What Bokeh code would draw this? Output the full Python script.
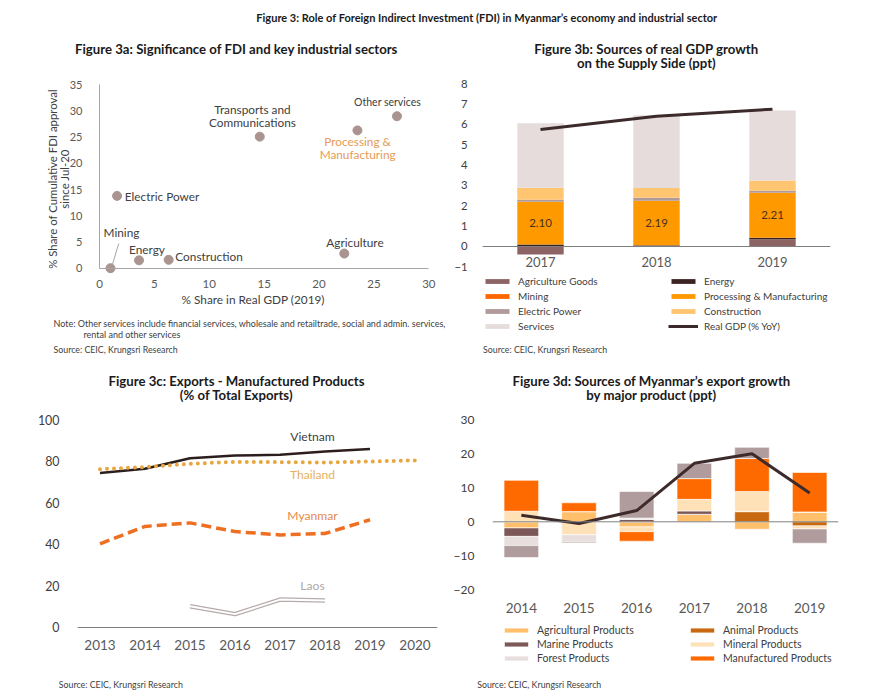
import numpy as np
from bokeh.plotting import figure
from bokeh.models import Label, Legend, LegendItem, Span, FactorRange, FixedTicker, Range1d
from bokeh.layouts import column, row
from bokeh.embed import file_html
from bokeh.resources import INLINE

FONT = "Lato"
TXT = "#404040"
TICK = "#595959"
DARK = "#1a1a1a"

# ---------------- Data ----------------
# Figure 3a
sectors = ["Mining", "Energy", "Construction", "Electric Power",
           "Transports and Communications", "Processing & Manufacturing",
           "Other services", "Agriculture"]
gdp_share = [1.0, 3.6, 6.3, 1.6, 14.6, 23.5, 27.1, 22.3]
fdi_share = [0.0, 1.5, 1.6, 13.8, 25.1, 26.3, 29.0, 2.8]
a_xticks = [0, 5, 10, 15, 20, 25, 30]
a_yticks = [0, 5, 10, 15, 20, 25, 30, 35]

# Figure 3b
years_b = ["2017", "2018", "2019"]
b_names = ["Agriculture Goods", "Energy", "Mining", "Processing & Manufacturing",
           "Electric Power", "Construction", "Services"]
b_agri = [-0.40, 0.03, 0.36]
b_energy = [0.10, 0.03, 0.07]
b_mining = [0.00, 0.00, 0.00]
b_proc = [2.10, 2.19, 2.21]
b_elec = [0.10, 0.15, 0.10]
b_constr = [0.59, 0.48, 0.50]
b_serv = [3.17, 3.57, 3.45]
b_gdp = [5.75, 6.40, 6.75]
b_yticks = [-1, 0, 1, 2, 3, 4, 5, 6, 7, 8]

# Figure 3c
years_c = ["2013", "2014", "2015", "2016", "2017", "2018", "2019", "2020"]
vietnam_years = ["2013", "2014", "2015", "2016", "2017", "2018", "2019"]
vietnam = [74.4, 76.4, 81.5, 82.8, 83.1, 84.7, 85.9]
thailand_years = ["2013", "2014", "2015", "2016", "2017", "2018", "2019", "2020"]
thailand = [76.2, 77.2, 78.8, 79.7, 79.6, 79.4, 79.9, 80.4]
myanmar_years = ["2013", "2014", "2015", "2016", "2017", "2018", "2019"]
myanmar = [40.2, 48.6, 50.3, 46.1, 44.5, 45.2, 51.8]
laos_years = ["2015", "2016", "2017", "2018"]
laos = [10.1, 6.3, 13.3, 12.9]
c_yticks = [0, 20, 40, 60, 80, 100]

# Figure 3d
years_d = ["2014", "2015", "2016", "2017", "2018", "2019"]
d_names = ["Agricultural Products", "Animal Products", "Marine Products",
           "Mineral Products", "Forest Products", "Manufactured Products", "Other Products"]
d_agri = [-1.8, 3.0, -1.5, 2.2, -2.2, 2.9]
d_animal = [0.0, 0.0, 0.0, 0.0, 3.0, -1.2]
d_marine = [-2.5, 0.0, 0.7, 1.0, 0.0, 0.0]
d_mineral = [3.1, -3.8, -1.4, 3.4, 5.9, -0.9]
d_forest = [-2.7, -2.1, 0.4, 0.0, 0.0, 0.0]
d_manuf = [9.1, 2.6, -2.8, 6.1, 9.7, 11.6]
d_other = [-3.5, -0.3, 7.8, 4.5, 3.3, -4.2]
d_total = [1.9, -0.5, 3.3, 17.2, 20.0, 8.5]
d_yticks = [-20, -10, 0, 10, 20, 30]


# ---------------- Helpers ----------------
def stack(series):
    n = len(series[0])
    pos = np.zeros(n)
    neg = np.zeros(n)
    out = []
    for v in series:
        v = np.asarray(v, float)
        bottom = np.where(v >= 0, pos, neg)
        top = bottom + v
        pos = np.where(v >= 0, top, pos)
        neg = np.where(v < 0, top, neg)
        out.append((bottom, top))
    return out


def span_range(v0, v1, frac0, frac1):
    """Range whose values v0/v1 fall at fractions frac0/frac1 of the frame."""
    k = (v1 - v0) / (frac1 - frac0)
    start = v0 - frac0 * k
    return Range1d(start, start + k)


def make_fig(w, h, xr, yr, bl=0, br=0, bt=0, bb=0):
    p = figure(width=w, height=h, x_range=xr, y_range=yr, output_backend="svg",
               toolbar_location=None, min_border_left=bl, min_border_right=br,
               min_border_top=bt, min_border_bottom=bb)
    p.outline_line_color = None
    p.xgrid.visible = False
    p.ygrid.visible = False
    p.background_fill_color = "white"
    p.border_fill_color = "white"
    for ax in (p.xaxis, p.yaxis):
        ax.major_tick_line_color = None
        ax.minor_tick_line_color = None
        ax.major_label_text_font = FONT
        ax.major_label_text_color = TICK
    return p


def txt(p, text, sx, sy, size, color=TXT, bold=False, align="left", angle=0.0):
    p.add_layout(Label(x=sx, y=sy, x_units="screen", y_units="screen", text=text,
                       text_font=FONT, text_font_size=f"{size}px", text_color=color,
                       text_font_style="bold" if bold else "normal",
                       text_align=align, text_baseline="middle", angle=angle))


def legend(p, items, x, y, size, spacing, standoff=6):
    lg = Legend(items=items, location=(x, y), orientation="vertical",
                glyph_width=30, glyph_height=6, label_height=12, label_standoff=standoff,
                spacing=spacing, padding=0, margin=0, border_line_color=None,
                background_fill_alpha=0, label_text_font=FONT,
                label_text_font_size=f"{size}px", label_text_color=TXT)
    p.add_layout(lg)


W_L, W_R = 450, 419
H_HEAD, H_ROW1, H_ROW2, H_FOOT = 33, 327, 316, 19
SUB = 13.2      # sub-figure title size
NOTE = 8.8      # notes / sources

# ---------------- Header ----------------
header = figure(width=W_L + W_R, height=H_HEAD, x_range=(0, 1), y_range=(0, 1),
                output_backend="svg", toolbar_location=None, x_axis_type=None,
                y_axis_type=None, min_border=0)
header.outline_line_color = None
header.xgrid.visible = False
header.ygrid.visible = False
txt(header, "Figure 3: Role of Foreign Indirect Investment (FDI) in Myanmar\u2019s economy and industrial sector",
    486.5, 16.3, 11, color=DARK, bold=True, align="center")

# ---------------- Figure 3a ----------------
p1 = make_fig(W_L, H_ROW1,
              span_range(0, 30, 99 / W_L, 428.3 / W_L),
              span_range(0, 35, 92.3 / H_ROW1, 275.7 / H_ROW1))
p1.xaxis.ticker = FixedTicker(ticks=a_xticks)
p1.yaxis.ticker = FixedTicker(ticks=a_yticks)
p1.xaxis.fixed_location = 0
p1.yaxis.fixed_location = 0
p1.xaxis.bounds = (0, 30)
p1.yaxis.bounds = (0, 35)
p1.xaxis.axis_line_color = "#A6A6A6"
p1.yaxis.axis_line_color = "#A6A6A6"
p1.xaxis.major_label_text_font_size = "11.5px"
p1.yaxis.major_label_text_font_size = "11px"
p1.xaxis.major_label_standoff = 6
p1.yaxis.major_label_standoff = 11

mi = sectors.index("Mining")
p1.segment(x0=[gdp_share[mi] + 0.15], y0=[fdi_share[mi] + 0.5],
           x1=[gdp_share[mi] + 0.75], y1=[fdi_share[mi] + 4.7],
           line_color="#A6A6A6", line_width=1)
p1.scatter(gdp_share, fdi_share, size=9, color="#A99490")

label_style = {
    "Mining": [("Mining", 11, 35.3, "center")],
    "Energy": [("Energy", 8, 11, "center")],
    "Construction": [("Construction", 6.7, 2.9, "left")],
    "Electric Power": [("Electric Power", 7.7, -0.5, "left")],
    "Transports and Communications": [("Transports and", -7.3, 27.1, "center"),
                                      ("Communications", -7.3, 14.4, "center")],
    "Processing & Manufacturing": [("Processing &", 0.2, -11.3, "center"),
                                   ("Manufacturing", 0.2, -24.3, "center")],
    "Other services": [("Other services", -9.4, 14.5, "center")],
    "Agriculture": [("Agriculture", 10.7, 11.3, "center")],
}
for name, gx, fy in zip(sectors, gdp_share, fdi_share):
    col = "#E39B55" if name.startswith("Processing") else TXT
    size = "10.5px" if name == "Other services" else "11.8px"
    for t, dx, dy, al in label_style[name]:
        p1.add_layout(Label(x=gx, y=fy, x_offset=dx, y_offset=dy, text=t, text_font=FONT,
                            text_font_size=size, text_color=col, text_align=al,
                            text_baseline="middle"))

txt(p1, "Figure 3a: Significance of FDI and key industrial sectors", 236, 312, SUB,
    color=DARK, bold=True, align="center")
txt(p1, "% Share in Real GDP (2019)", 252.7, 60.7, 11.8, align="center")
txt(p1, "% Share of Cumulative FDI approval", 51.7, 181.5, 11.4, align="center", angle=np.pi / 2)
txt(p1, "since Jul-20", 63.6, 181.5, 11.4, align="center", angle=np.pi / 2)
txt(p1, "Note: Other services include financial services, wholesale and retailtrade, social and admin. services,",
    53, 37, 9)
txt(p1, "rental and other services", 83, 26, 9)
txt(p1, "Source: CEIC, Krungsri Research", 53, 11, NOTE)

# ---------------- Figure 3b ----------------
p2 = make_fig(W_R, H_ROW1, FactorRange(*years_b),
              span_range(-1, 8, 93.7 / H_ROW1, 276.7 / H_ROW1), bl=32, br=39)
p2.yaxis.ticker = FixedTicker(ticks=b_yticks)
p2.yaxis.axis_line_color = None
p2.yaxis.major_label_text_font_size = "11.3px"
p2.yaxis.major_label_text_color = TXT
p2.yaxis.major_label_standoff = 9
p2.xaxis.fixed_location = 0
p2.xaxis.axis_line_color = "#7F7F7F"
p2.xaxis.major_label_text_font_size = "13px"
p2.xaxis.major_label_standoff = 5

b_colors = ["#8C6464", "#3B2323", "#FF6600", "#FF9900", "#B09A9A", "#FFC570", "#E6DCDC"]
b_series = [b_agri, b_energy, b_mining, b_proc, b_elec, b_constr, b_serv]
b_stacks = stack(b_series)
b_rend = []
for (bot, top), c in zip(b_stacks, b_colors):
    r = p2.vbar(x=years_b, bottom=bot, top=top, width=0.4, fill_color=c, line_color=None)
    b_rend.append(r)
proc_bt = b_stacks[3]
p2.text(x=years_b, y=(proc_bt[0] + proc_bt[1]) / 2, text=[f"{v:.2f}" for v in b_proc],
        text_font_size="11.5px", text_color="#4a3020", text_align="center",
        text_baseline="middle", text_font={"value": FONT})
gdp_r = p2.line(years_b, b_gdp, line_color="#3D2B2B", line_width=3)

left_b = [LegendItem(label=b_names[i], renderers=[b_rend[i]]) for i in (0, 2, 4, 6)]
right_b = [LegendItem(label=b_names[i], renderers=[b_rend[i]]) for i in (1, 3, 5)]
right_b.append(LegendItem(label="Real GDP (% YoY)", renderers=[gdp_r]))
legend(p2, left_b, 0, 28.3, 10, 3)
legend(p2, right_b, 186, 28.3, 10, 3)

txt(p2, "Figure 3b: Sources of real GDP growth", 164, 311.7, SUB, color=DARK, bold=True, align="center")
txt(p2, "on the Supply Side (ppt)", 164, 297.3, SUB, color=DARK, bold=True, align="center")
txt(p2, "Source: CEIC, Krungsri Research", 0.5, 11, NOTE)

# ---------------- Figure 3c ----------------
p3 = make_fig(W_L, H_ROW2, FactorRange(*years_c),
              span_range(0, 100, 49.3 / H_ROW2, 256.7 / H_ROW2), bl=77, br=13)
p3.yaxis.ticker = FixedTicker(ticks=c_yticks)
p3.yaxis.axis_line_color = None
p3.yaxis.major_label_text_font_size = "12.4px"
p3.yaxis.major_label_text_color = TXT
p3.yaxis.major_label_standoff = 12
p3.xaxis.fixed_location = 0
p3.xaxis.axis_line_color = "#7F7F7F"
p3.xaxis.major_label_text_font_size = "13.5px"
p3.xaxis.major_label_standoff = 7

p3.line(laos_years, laos, line_color="#B8AAAA", line_width=4.5)
p3.line(laos_years, laos, line_color="white", line_width=2)
p3.line(myanmar_years, myanmar, line_color="#EE6F22", line_width=3.5, line_dash="10 5")
p3.line(vietnam_years, vietnam, line_color="#2D1E1E", line_width=2.5)
p3.line(thailand_years, thailand, line_color="#E8A640", line_width=4, line_dash="0 7",
        line_cap="round")

txt(p3, "Vietnam", 235, 240, 12.1, color=TXT, align="center")
txt(p3, "Thailand", 235, 202, 12.1, color="#E6B060", align="center")
txt(p3, "Myanmar", 235, 160.7, 12.1, color="#E58A4A", align="center")
txt(p3, "Laos", 235, 91, 12.1, color="#B0A8A8", align="center")
txt(p3, "Figure 3c: Exports - Manufactured Products", 159, 296, SUB, color=DARK, bold=True, align="center")
txt(p3, "(% of Total Exports)", 159, 282, SUB, color=DARK, bold=True, align="center")

# ---------------- Figure 3d ----------------
p4 = make_fig(W_R, H_ROW2, FactorRange(*years_d),
              span_range(-20, 30, 86.7 / H_ROW2, 256.7 / H_ROW2), bl=37, br=31)
p4.yaxis.ticker = FixedTicker(ticks=d_yticks)
p4.yaxis.axis_line_color = None
p4.yaxis.major_label_text_font_size = "12px"
p4.yaxis.major_label_text_color = TXT
p4.yaxis.major_label_standoff = 12
p4.xaxis.fixed_location = -20
p4.xaxis.axis_line_color = None
p4.xaxis.major_label_text_font_size = "13.5px"
p4.xaxis.major_label_standoff = 7

d_colors = ["#FFBF6B", "#C8690F", "#7D5858", "#FFE1B8", "#E8DEDE", "#FF6A00", "#B09C9C"]
d_series = [d_agri, d_animal, d_marine, d_mineral, d_forest, d_manuf, d_other]
d_rend = []
for (bot, top), c in zip(stack(d_series), d_colors):
    r = p4.vbar(x=years_d, bottom=bot, top=top, width=0.6, fill_color=c,
                line_color="white", line_width=0.6)
    d_rend.append(r)
p4.add_layout(Span(location=0, dimension="width", line_color="#7F7F7F", line_width=1))
p4.line(years_d, d_total, line_color="#3D2B2B", line_width=3)

left_d = [LegendItem(label=d_names[i], renderers=[d_rend[i]]) for i in (0, 2, 4)]
right_d = [LegendItem(label=d_names[i], renderers=[d_rend[i]]) for i in (1, 3, 5)]
legend(p4, left_d, 9, 11.7, 10.5, 2)
legend(p4, right_d, 195, 11.7, 10.5, 2)

txt(p4, "Figure 3d: Sources of Myanmar\u2019s export growth", 159, 296, SUB, color=DARK, bold=True, align="center")
txt(p4, "by major product (ppt)", 159, 282, SUB, color=DARK, bold=True, align="center")

# ---------------- Footer (sources of 3c and 3d) ----------------
footer = figure(width=W_L + W_R, height=H_FOOT, x_range=(0, 1), y_range=(0, 1),
                output_backend="svg", toolbar_location=None, x_axis_type=None,
                y_axis_type=None, min_border=0)
footer.outline_line_color = None
footer.xgrid.visible = False
footer.ygrid.visible = False
txt(footer, "Source: CEIC, Krungsri Research", 58.3, 10.7, NOTE)
txt(footer, "Source: CEIC, Krungsri Research", 476.7, 10.7, NOTE)

layout = column(header, row(p1, p2), row(p3, p4), footer)
open("out.html", "w").write(file_html(layout, INLINE))
